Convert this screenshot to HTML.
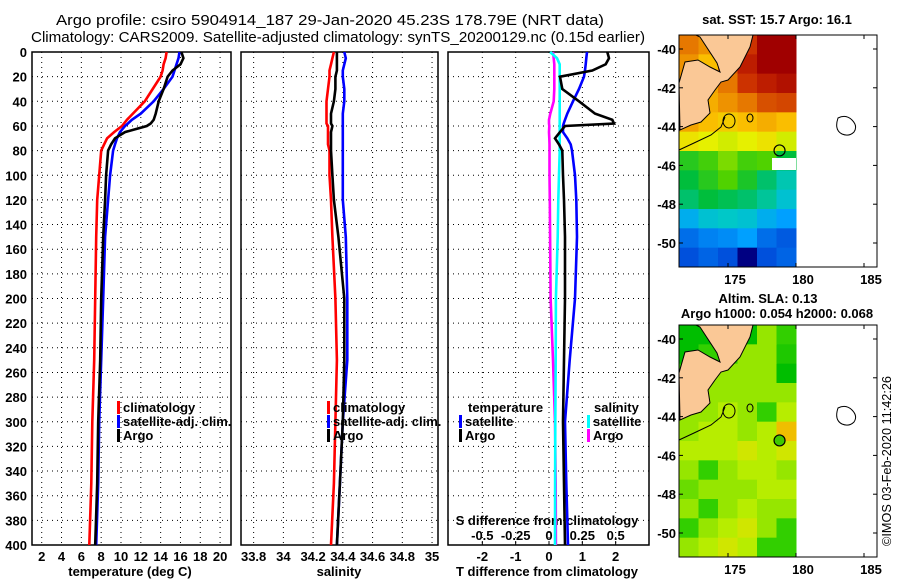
<!DOCTYPE html>
<html><head><meta charset="utf-8"><style>
html,body{margin:0;padding:0;background:#fff;}
svg{display:block;font-family:"Liberation Sans",sans-serif;}
.t{font-size:13px;font-weight:bold;fill:#000;}
</style></head><body>
<svg id="chart" width="900" height="580" viewBox="0 0 900 580" xmlns="http://www.w3.org/2000/svg">
<text x="330" y="25" text-anchor="middle" font-size="15" textLength="548" lengthAdjust="spacingAndGlyphs">Argo profile: csiro 5904914_187 29-Jan-2020 45.23S 178.79E (NRT data)</text>
<text x="338" y="42" text-anchor="middle" font-size="15" textLength="614" lengthAdjust="spacingAndGlyphs">Climatology: CARS2009. Satellite-adjusted climatology: synTS_20200129.nc (0.15d earlier)</text>
<g id="g"></g>
<text transform="translate(891,546) rotate(-90)" font-size="13" textLength="170" lengthAdjust="spacingAndGlyphs">©IMOS 03-Feb-2020 11:42:26</text>
</svg>
<script>
// ---- data ----
const depths = [0,5,10,15,20,30,40,50,55,58,60,65,70,75,80,100,120,150,200,250,300,350,400];
const tClim = [14.6,14.5,14.3,14.2,14.0,13.2,12.4,11.2,10.6,10.3,10.1,9.3,8.6,8.3,8.0,7.8,7.6,7.5,7.4,7.3,7.1,7.0,6.8];
const tSat  = [15.9,15.8,15.6,15.4,15.2,14.3,13.3,12.0,11.1,10.7,10.4,9.9,9.6,9.4,9.2,8.9,8.7,8.4,8.2,8.0,7.8,7.7,7.5];
const tArgo = [16.1,16.3,16.0,15.2,14.7,14.3,13.8,13.5,13.3,13.0,12.6,10.4,9.4,9.0,8.7,8.5,8.4,8.2,8.0,7.9,7.7,7.6,7.4];
const sClim = [34.34,34.33,34.32,34.31,34.31,34.30,34.29,34.29,34.29,34.29,34.30,34.30,34.30,34.30,34.31,34.31,34.32,34.33,34.35,34.36,34.35,34.34,34.32];
const sSat  = [34.41,34.42,34.41,34.40,34.40,34.41,34.41,34.40,34.40,34.40,34.40,34.40,34.40,34.40,34.40,34.40,34.40,34.42,34.43,34.43,34.40,34.38,34.36];
const sArgo = [34.36,34.36,34.36,34.36,34.35,34.35,34.34,34.32,34.32,34.32,34.33,34.32,34.32,34.32,34.32,34.33,34.34,34.37,34.41,34.41,34.40,34.38,34.36];
const dTSat  = [1.14,1.12,1.10,1.08,1.05,0.9,0.72,0.55,0.48,0.44,0.42,0.42,0.55,0.65,0.69,0.78,0.82,0.84,0.78,0.62,0.48,0.52,0.57];
const dTArgo = [1.75,1.8,1.7,1.3,0.33,0.4,0.9,1.38,1.9,1.95,0.48,0.33,0.18,0.3,0.4,0.42,0.45,0.48,0.48,0.45,0.42,0.45,0.48];
const dSSat  = [0.008,0.06,0.08,0.08,0.08,0.08,0.08,0.08,0.08,0.08,0.08,0.08,0.08,0.08,0.08,0.075,0.07,0.065,0.052,0.05,0.047,0.046,0.045];
const dSArgo = [0.03,0.035,0.04,0.04,0.04,0.04,0.035,0.01,0.0,0.0,0.002,0.0,0.002,0.004,0.004,0.004,0.006,0.008,0.012,0.03,0.045,0.05,0.052];
const depthTicks = [0,20,40,60,80,100,120,140,160,180,200,220,240,260,280,300,320,340,360,380,400];
const tTicks = [2,4,6,8,10,12,14,16,18,20];
const sTicks = [33.8,34,34.2,34.4,34.6,34.8,35];
const sTickLabels = ["33.8","34","34.2","34.4","34.6","34.8","35"];
const dTTicks = [-2,-1,0,1,2];
const dSTicks = [-0.5,-0.25,0,0.25,0.5];
const dSTickLabels = ["-0.5","-0.25","0","0.25","0.5"];
const latTicks = [-40,-42,-44,-46,-48,-50];
const lonTicks = [175,180,185];
const sstGrid = [
[15.8,15.5,16.0,16.5,17.3,17.5],
[15.5,15.0,16.0,16.8,17.3,17.3],
[15.5,15.3,15.8,16.5,16.8,17.0],
[15.5,15.2,15.5,15.8,16.2,16.3],
[15.3,15.0,14.8,15.0,15.2,15.0],
[14.5,14.3,14.2,14.3,14.5,14.2],
[13.3,13.5,13.8,13.5,13.6,13.0],
[13.0,13.3,13.6,13.2,12.8,12.5],
[12.8,13.0,12.9,12.8,12.6,12.3],
[12.0,12.3,12.4,12.3,12.0,11.8],
[11.3,11.5,11.6,11.8,11.3,11.1],
[11.0,11.2,11.0,10.3,11.0,11.2]];
const slaGrid = [
[0.0,0.0,0.0,0.0,0.1,0.05],
[0.0,0.05,0.05,0.1,0.1,0.03],
[0.05,0.1,0.1,0.1,0.1,0.0],
[0.05,0.1,0.1,0.1,0.1,0.1],
[0.1,0.1,0.12,0.1,0.05,0.12],
[0.1,0.12,0.12,0.1,0.12,0.18],
[0.12,0.12,0.12,0.14,0.12,0.14],
[0.1,0.05,0.1,0.12,0.12,0.1],
[0.08,0.1,0.1,0.1,0.12,0.12],
[0.1,0.05,0.1,0.12,0.1,0.1],
[0.05,0.1,0.12,0.14,0.1,0.05],
[0.1,0.12,0.14,0.12,0.05,0.05]];
const argoLon = 178.79, argoLat = -45.23;

// ---- helpers ----
const NS="http://www.w3.org/2000/svg";
const G=document.getElementById('g');
function mk(tag,attrs,parent){const e=document.createElementNS(NS,tag);for(const k in attrs)e.setAttribute(k,attrs[k]);(parent||G).appendChild(e);return e;}
const TOP=52,BOT=545;
const yD=d=>TOP+d*(BOT-TOP)/400;
const P=[
 {l:32,r:231,x0:1.02,x1:21.1},
 {l:241,r:438,x0:33.715,x1:35.04},
 {l:448,r:649,x0:-3.03,x1:3.0}];
function xf(p){return v=>p.l+(v-p.x0)*(p.r-p.l)/(p.x1-p.x0);}
const xT=xf(P[0]),xS=xf(P[1]),xDT=xf(P[2]);
const xDS=s=>xDT(s*4);

function panel(p,idx,xs,name){
  const fr=mk('rect',{x:p.l,y:TOP,width:p.r-p.l,height:BOT-TOP,fill:'none',stroke:'#000','stroke-width':1.5});
  
  
  depthTicks.forEach(d=>{
    if(d===0||d===400)return;
    const gl=mk('line',{x1:p.l,x2:p.r,y1:yD(d),y2:yD(d),stroke:'#000','stroke-dasharray':'1,4','stroke-width':1});
    
    
  });
  xs.forEach(x=>{
    const gl=mk('line',{x1:x,x2:x,y1:TOP,y2:BOT,stroke:'#000','stroke-dasharray':'1,4','stroke-width':1});
    
    
  });
}
function line(xfun,vals,color,name){
  const pts=vals.map((v,i)=>xfun(v).toFixed(1)+','+yD(depths[i]).toFixed(1)).join(' ');
  const e=mk('polyline',{points:pts,fill:'none',stroke:color,'stroke-width':2.6,'stroke-linejoin':'miter'});
  
  
}
function txt(x,y,s,anchor,name,size){
  const e=mk('text',{x:x,y:y,'text-anchor':anchor||'start',class:'t'});
  if(size)e.setAttribute('font-size',size);
  e.textContent=s;
  
  
  return e;
}
function legend(x,y,color,label,name){
  const m=mk('rect',{x:x,y:y-11,width:3,height:13,fill:color});
  
  
  txt(x+6,y,label,'start',name);
}

// ---- panels ----
panel(P[0],0,tTicks.map(xT),'temperature-panel');
panel(P[1],1,sTicks.map(xS),'salinity-panel');
panel(P[2],2,dTTicks.map(xDT),'difference-panel');

depthTicks.forEach(d=>txt(27,yD(d)+5,String(d),'end','depth-tick-label'));
tTicks.forEach(t=>txt(xT(t),561,String(t),'middle','temperature-tick-label'));
sTicks.forEach((s,i)=>txt(xS(s),561,sTickLabels[i],'middle','salinity-tick-label'));
dTTicks.forEach(t=>txt(xDT(t),561,String(t),'middle','t-diff-tick-label'));
dSTicks.forEach((s,i)=>{
  txt(xDS(s),540,dSTickLabels[i],'middle','s-diff-tick-label');
  const tk=mk('line',{x1:xDS(s),x2:xDS(s),y1:BOT,y2:BOT-4,stroke:'#000'});
  
  
});
txt(130,576,'temperature (deg C)','middle','temperature-axis-title');
txt(339,576,'salinity','middle','salinity-axis-title');
txt(547,576,'T difference from climatology','middle','t-diff-axis-title');
txt(547,525,'S difference from climatology','middle','s-diff-axis-title');

line(xT,tClim,'#ff0000','temperature-climatology-line');
line(xT,tSat,'#0000ff','temperature-satellite-line');
line(xT,tArgo,'#000000','temperature-argo-line');
line(xS,sClim,'#ff0000','salinity-climatology-line');
line(xS,sSat,'#0000ff','salinity-satellite-line');
line(xS,sArgo,'#000000','salinity-argo-line');
line(xDS,dSArgo,'#ff00ff','s-diff-argo-line');
line(xDS,dSSat,'#00ffff','s-diff-satellite-line');
line(xDT,dTSat,'#0000ff','t-diff-satellite-line');
line(xDT,dTArgo,'#000000','t-diff-argo-line');

legend(117,412,'#ff0000','climatology','legend-climatology');
legend(117,426,'#0000ff','satellite-adj. clim.','legend-satellite');
legend(117,440,'#000000','Argo','legend-argo');
legend(327,412,'#ff0000','climatology','legend2-climatology');
legend(327,426,'#0000ff','satellite-adj. clim.','legend2-satellite');
legend(327,440,'#000000','Argo','legend2-argo');
txt(468,412,'temperature','start','legend3-temperature-header');
legend(459,426,'#0000ff','satellite','legend3-t-satellite');
legend(459,440,'#000000','Argo','legend3-t-argo');
txt(594,412,'salinity','start','legend3-salinity-header');
legend(587,426,'#00ffff','satellite','legend3-s-satellite');
legend(587,440,'#ff00ff','Argo','legend3-s-argo');

// ---- maps ----
const ML=679,MR=877,DR=796;
const lonX=lon=>796+(lon-180)*13.6;
function sstColor(v){
  const st=[[10.3,[0,0,130]],[11.0,[0,80,220]],[11.8,[0,160,255]],[12.4,[0,200,200]],[13.0,[0,190,60]],[13.6,[80,210,0]],[14.3,[230,240,0]],[15.0,[250,190,0]],[15.8,[230,120,0]],[16.6,[200,40,0]],[17.3,[160,0,0]]];
  if(v<=st[0][0])return 'rgb('+st[0][1]+')';
  for(let i=1;i<st.length;i++){if(v<=st[i][0]){const a=st[i-1],b=st[i],f=(v-a[0])/(b[0]-a[0]);return 'rgb('+a[1].map((c,k)=>Math.round(c+(b[1][k]-c)*f)).join(',')+')';}}
  return 'rgb('+st[st.length-1][1]+')';
}
function slaColor(v){
  const st=[[0.0,[0,190,0]],[0.06,[60,210,0]],[0.1,[150,230,0]],[0.13,[200,240,0]],[0.18,[240,190,0]]];
  if(v<=st[0][0])return 'rgb('+st[0][1]+')';
  for(let i=1;i<st.length;i++){if(v<=st[i][0]){const a=st[i-1],b=st[i],f=(v-a[0])/(b[0]-a[0]);return 'rgb('+a[1].map((c,k)=>Math.round(c+(b[1][k]-c)*f)).join(',')+')';}}
  return 'rgb('+st[st.length-1][1]+')';
}
function map(top,grid,colorFn,name,argoFill){
  const bot=top+232;
  const latY=lat=>top+14+(-40-lat)*19.4;
  const rows=grid.length,cols=grid[0].length;
  const cw=(DR-ML)/cols,ch=(bot-top)/rows;
  grid.forEach((row,r)=>row.forEach((v,c)=>{
    const cell=mk('rect',{x:ML+c*cw,y:top+r*ch,width:cw+0.5,height:ch+0.5,fill:colorFn(v)});
    
    
  }));
  if(name==='sst-map'){
    const w=mk('rect',{x:772,y:top+123,width:24,height:12,fill:'#fff'});
    
    
  }
  const land=[[17,0],[74,0],[71,12],[61,32],[49,45],[42,47],[36,55],[29,65],[31,78],[22,87],[12,90],[1,95],[0,48],[6,27],[19,25],[31,32],[41,37],[38,28],[21,2]];
  const lp=mk('polygon',{points:land.map(p=>(ML+p[0])+','+(top+p[1])).join(' '),fill:'#fac896',stroke:'#000','stroke-width':1});
  
  
  const coast=mk('polyline',{points:[[0,115],[15,108],[32,100],[42,92],[46,82]].map(p=>(ML+p[0])+','+(top+p[1])).join(' '),fill:'none',stroke:'#000','stroke-width':1});
  
  
  [[50,86,6,7],[71,83,3,4]].forEach(e=>{
    const c=mk('ellipse',{cx:ML+e[0],cy:top+e[1],rx:e[2],ry:e[3],fill:'none',stroke:'#000'});
    
    
  });
  const ch2=mk('path',{d:'M838,'+(top+83)+' q8,-4 14,2 q6,6 2,12 q-5,5 -12,2 q-8,-4 -4,-16z',fill:'none',stroke:'#000'});
  
  
  const fr=mk('rect',{x:ML,y:top,width:MR-ML,height:bot-top,fill:'none',stroke:'#000','stroke-width':1});
  
  
  const ac=mk('circle',{cx:lonX(argoLon),cy:latY(argoLat),r:5.5,fill:argoFill,stroke:'#000','stroke-width':1.2});
  
  
  latTicks.forEach(l=>{
    txt(676,latY(l)+5,String(l),'end',name+'-lat-label');
    [[ML,ML+4],[MR-4,MR]].forEach(a=>{const t=mk('line',{x1:a[0],x2:a[1],y1:latY(l),y2:latY(l),stroke:'#000'});
      
      });
  });
  lonTicks.forEach(l=>{
    txt(lonX(l)+7,bot+17,String(l),'middle',name+'-lon-label');
    [[top,top+4],[bot-4,bot]].forEach(a=>{const t=mk('line',{x1:lonX(l),x2:lonX(l),y1:a[0],y2:a[1],stroke:'#000'});
      
      });
  });
}
map(35,sstGrid,sstColor,'sst-map','none');
map(325,slaGrid,slaColor,'sla-map','#40c800');
txt(777,24,'sat. SST: 15.7 Argo: 16.1','middle','sst-map-title');
txt(768,303,'Altim. SLA: 0.13','middle','sla-map-title');
txt(777,318,'Argo h1000: 0.054 h2000: 0.068','middle','sla-map-subtitle');
</script>
</body></html>
